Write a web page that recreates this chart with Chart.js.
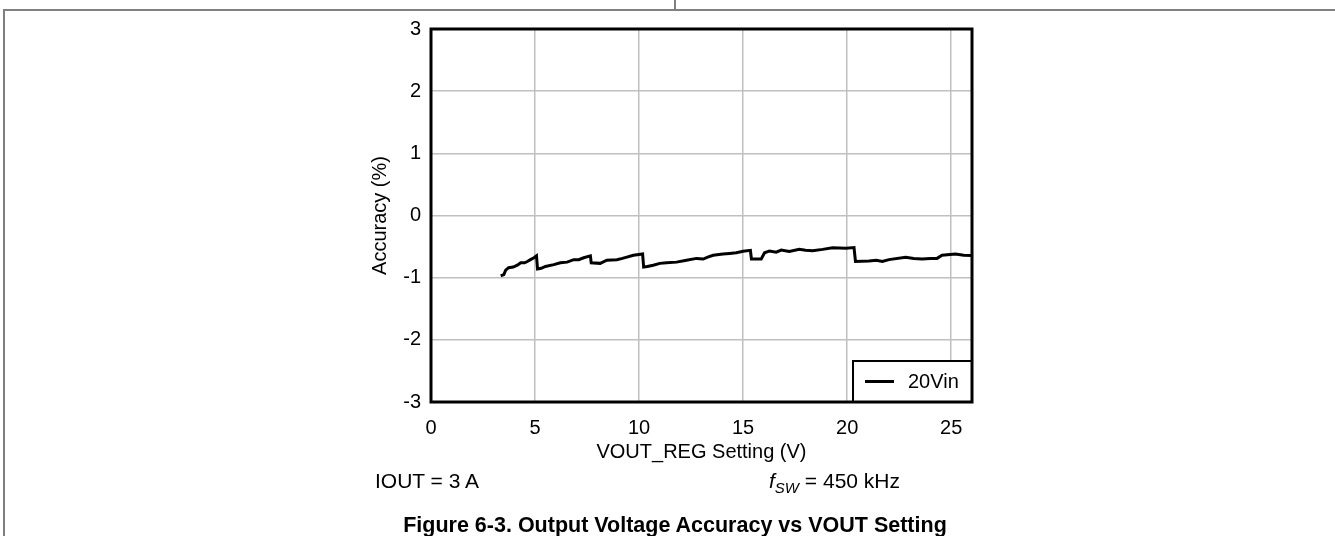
<!DOCTYPE html>
<html>
<head>
<meta charset="utf-8">
<script src="https://cdn.jsdelivr.net/npm/chart.js@4.4.1/dist/chart.umd.min.js"></script>
<style>
  html, body { margin: 0; padding: 0; background: #fff; }
  body { width: 1335px; height: 536px; position: relative; overflow: hidden; font-family: "Liberation Sans", Arial, sans-serif; }
  #c { position: absolute; left: 0; top: 0; }
  .frame { position: absolute; background: #808080; }
  .txt { position: absolute; color: #000; white-space: nowrap; font-size: 21px; line-height: 21px; }
  .cap { position: absolute; left: 0; width: 1350px; text-align: center; font-weight: bold; font-size: 21.5px; line-height: 21.5px; white-space: nowrap; }
</style>
</head>
<body>
<div class="frame" style="left:3px; top:9px; width:1332px; height:2px;"></div>
<div class="frame" style="left:674px; top:0; width:2px; height:10px;"></div>
<div class="frame" style="left:3px; top:9px; width:2px; height:527px;"></div>
<canvas id="c" width="1335" height="536"></canvas>
<div class="txt" style="left:375px; top:470px;">IOUT = 3 A</div>
<div class="txt" style="left:769px; top:470px;"><i>f</i><sub style="font-size:15px; line-height:0; vertical-align:-5px;"><i>SW</i></sub> = 450 kHz</div>
<div class="cap" style="top:515px;">Figure 6-3. Output Voltage Accuracy vs VOUT Setting</div>
<script>
const seriesLabel = "20Vin";
const xVals = [3.35,3.5,3.59,3.73,3.95,4.15,4.31,4.5,4.63,4.78,4.95,5.07,5.12,5.3,5.5,5.9,6.22,6.54,6.86,7.1,7.34,7.66,7.7,8.13,8.45,8.93,9.2,9.41,9.73,10.17,10.22,10.4,10.68,11.0,11.32,11.8,12.28,12.76,13.08,13.3,13.56,14.03,14.35,14.67,15.0,15.35,15.4,15.87,16.03,16.27,16.59,16.83,17.22,17.7,18.0,18.34,18.82,19.3,19.94,20.33,20.4,21.05,21.4,21.69,22.01,22.81,23.2,23.6,24.0,24.32,24.56,25.2,25.6,26];
const yVals = [-0.97,-0.95,-0.88,-0.84,-0.83,-0.80,-0.76,-0.76,-0.74,-0.71,-0.68,-0.65,-0.86,-0.85,-0.82,-0.79,-0.76,-0.75,-0.71,-0.71,-0.68,-0.65,-0.76,-0.77,-0.72,-0.71,-0.69,-0.67,-0.64,-0.62,-0.83,-0.82,-0.80,-0.77,-0.76,-0.75,-0.72,-0.69,-0.70,-0.67,-0.64,-0.62,-0.61,-0.60,-0.575,-0.56,-0.70,-0.70,-0.60,-0.57,-0.59,-0.555,-0.58,-0.545,-0.56,-0.565,-0.545,-0.52,-0.525,-0.515,-0.74,-0.73,-0.72,-0.74,-0.71,-0.67,-0.69,-0.70,-0.69,-0.69,-0.64,-0.62,-0.64,-0.645];
const xTicks = [0,5,10,15,20,25];
const yTicks = [-3,-2,-1,0,1,2,3];
const xMin = 0, xMax = 26, yMin = -3, yMax = 3;

const pts = xVals.map((x,i)=>({x:x, y:yVals[i]}));
const FONT = "'Liberation Sans', Arial, sans-serif";
const FS = 20;

const framePlugin = {
  id: 'frameLegend',
  afterDatasetsDraw(chart) {
    const {ctx, chartArea: a} = chart;
    ctx.save();
    const ds = chart.data.datasets[0];
    const bx = 853, by = 361, bw = a.right - 853, bh = a.bottom - 361;
    ctx.fillStyle = '#fff';
    ctx.fillRect(bx, by, bw, bh);
    ctx.lineWidth = 2;
    ctx.strokeStyle = '#000';
    ctx.strokeRect(bx, by, bw, bh);
    ctx.beginPath();
    ctx.lineWidth = ds.borderWidth;
    ctx.strokeStyle = ds.borderColor;
    ctx.moveTo(865, by + bh/2);
    ctx.lineTo(894, by + bh/2);
    ctx.stroke();
    ctx.fillStyle = '#000';
    ctx.font = FS + "px " + FONT;
    ctx.textBaseline = 'middle';
    ctx.textAlign = 'left';
    ctx.fillText(ds.label, 908, by + bh/2 + 1);
    ctx.lineWidth = 3;
    ctx.strokeStyle = '#000';
    ctx.strokeRect(a.left, a.top, a.right - a.left, a.bottom - a.top);
    ctx.restore();
  }
};

new Chart(document.getElementById('c'), {
  type: 'line',
  data: {
    datasets: [{
      label: seriesLabel,
      data: pts,
      borderColor: '#000',
      borderWidth: 3,
      pointRadius: 0,
      tension: 0,
      fill: false
    }]
  },
  options: {
    responsive: false,
    animation: false,
    layout: { padding: { left: 368, right: 363, top: 29, bottom: 72 } },
    plugins: { legend: { display: false }, tooltip: { enabled: false } },
    scales: {
      x: {
        type: 'linear', min: xMin, max: xMax,
        afterBuildTicks: (s) => { s.ticks = xTicks.map(v => ({value: v})); },
        afterFit: (s) => { s.height = 62; },
        grid: { color: (c) => (c.tick && (c.tick.value === xMin || c.tick.value === xMax)) ? 'rgba(0,0,0,0)' : '#c0c0c0', lineWidth: 1.5, drawTicks: false },
        border: { display: false },
        ticks: { color: '#000', font: { family: FONT, size: FS }, padding: 14, maxRotation: 0, autoSkip: false },
        title: { display: true, text: 'VOUT_REG Setting (V)', color: '#000', font: { family: FONT, size: FS }, padding: { top: 0, bottom: 0 } }
      },
      y: {
        type: 'linear', min: yMin, max: yMax,
        afterBuildTicks: (s) => { s.ticks = yTicks.map(v => ({value: v})); },
        afterFit: (s) => { s.width = 63; },
        grid: { color: (c) => (c.tick && (c.tick.value === yMin || c.tick.value === yMax)) ? 'rgba(0,0,0,0)' : '#c0c0c0', lineWidth: 1.5, drawTicks: false },
        border: { display: false },
        ticks: { color: '#000', font: { family: FONT, size: FS }, padding: 10, autoSkip: false },
        title: { display: true, text: 'Accuracy (%)', color: '#000', font: { family: FONT, size: FS }, padding: { top: 0, bottom: 0 } }
      }
    }
  },
  plugins: [framePlugin]
});
</script>
</body>
</html>
